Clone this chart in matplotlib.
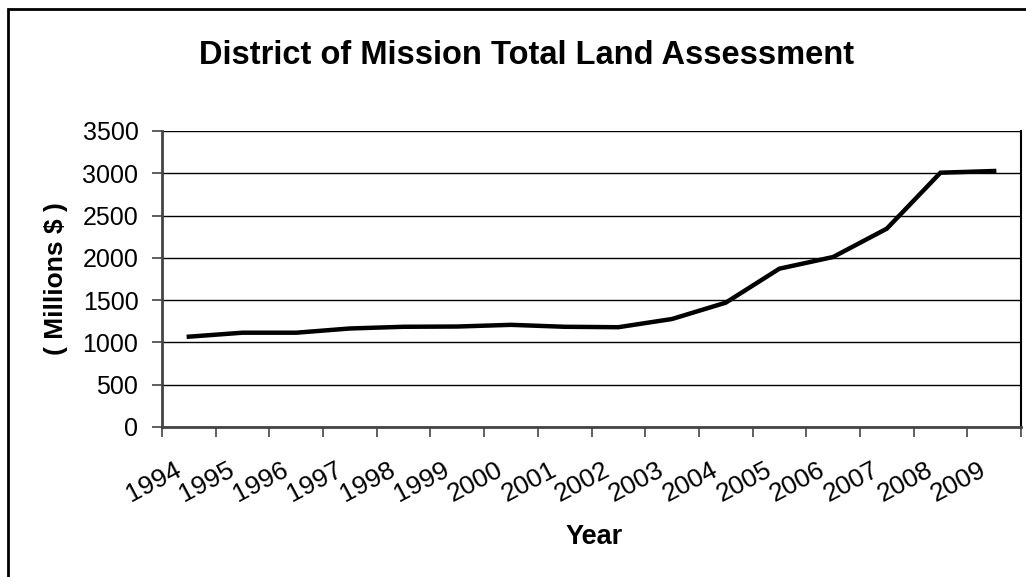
import numpy as np
import matplotlib
matplotlib.use('Agg')
import matplotlib.pyplot as plt
import matplotlib.transforms as mtransforms
from matplotlib.patches import Rectangle

plt.rcParams['font.family'] = ['Liberation Sans', 'DejaVu Sans']

years = ['1994', '1995', '1996', '1997', '1998', '1999', '2000', '2001',
         '2002', '2003', '2004', '2005', '2006', '2007', '2008', '2009']
values = [1068, 1115, 1115, 1165, 1185, 1188, 1208, 1185,
          1180, 1277, 1470, 1872, 2010, 2345, 3007, 3027]
yticks = [0, 500, 1000, 1500, 2000, 2500, 3000, 3500]

fig = plt.figure(figsize=(10.26, 5.77), dpi=100)
ax = fig.add_axes([162/1026, 1 - 427/577, (1021-162)/1026, (427-131)/577])

x = np.arange(len(years))
ax.plot(x, values, color='black', lw=3.2, solid_joinstyle='miter')

ax.set_xlim(-0.5, len(years) - 0.5)
ax.set_ylim(0, 3500)
ax.set_yticks(yticks)
ax.set_yticklabels([str(v) for v in yticks], fontsize=18)
ax.yaxis.grid(True, color='black', lw=1)
ax.set_axisbelow(True)

# ticks on the category boundaries, labels at the centres
ax.set_xticks(np.arange(-0.5, len(years), 1.0))
ax.set_xticklabels([])
ax.set_xticks(x, minor=True)
ax.set_xticklabels(years, minor=True, fontsize=19, rotation=28,
                   ha='right', va='top')
ax.tick_params(axis='x', which='minor', length=0, pad=22)
ax.tick_params(axis='x', which='major', length=7, width=1.2, color='#444444', direction='out')
ax.tick_params(axis='y', length=7, width=1.2, color='#444444', direction='out', pad=10)
shift = mtransforms.ScaledTranslation(-4/100, 0, fig.dpi_scale_trans)
for lab in ax.get_xticklabels(minor=True):
    lab.set_transform(lab.get_transform() + shift)

for s in ['left', 'bottom']:
    ax.spines[s].set_color('#444444')
    ax.spines[s].set_linewidth(2)
ax.spines['right'].set_color('black')
ax.spines['right'].set_linewidth(1.5)
ax.spines['top'].set_visible(False)

ax.set_ylabel('( Millions $ )', fontsize=19, fontweight='bold', labelpad=10)
fig.text(594/1026, 1 - 537/577, 'Year', fontsize=19.5, fontweight='bold',
         ha='center', va='center')
fig.text(527/1026, 1 - 55/577, 'District of Mission Total Land Assessment',
         fontsize=23.5, fontweight='bold', ha='center', va='center')

# chart border
fig.patches.append(Rectangle((8/1026, -0.1), 1.2, 1 - 9/577 + 0.1, transform=fig.transFigure,
                             fill=False, edgecolor='black', lw=2))

fig.savefig('out.png', dpi=100)
